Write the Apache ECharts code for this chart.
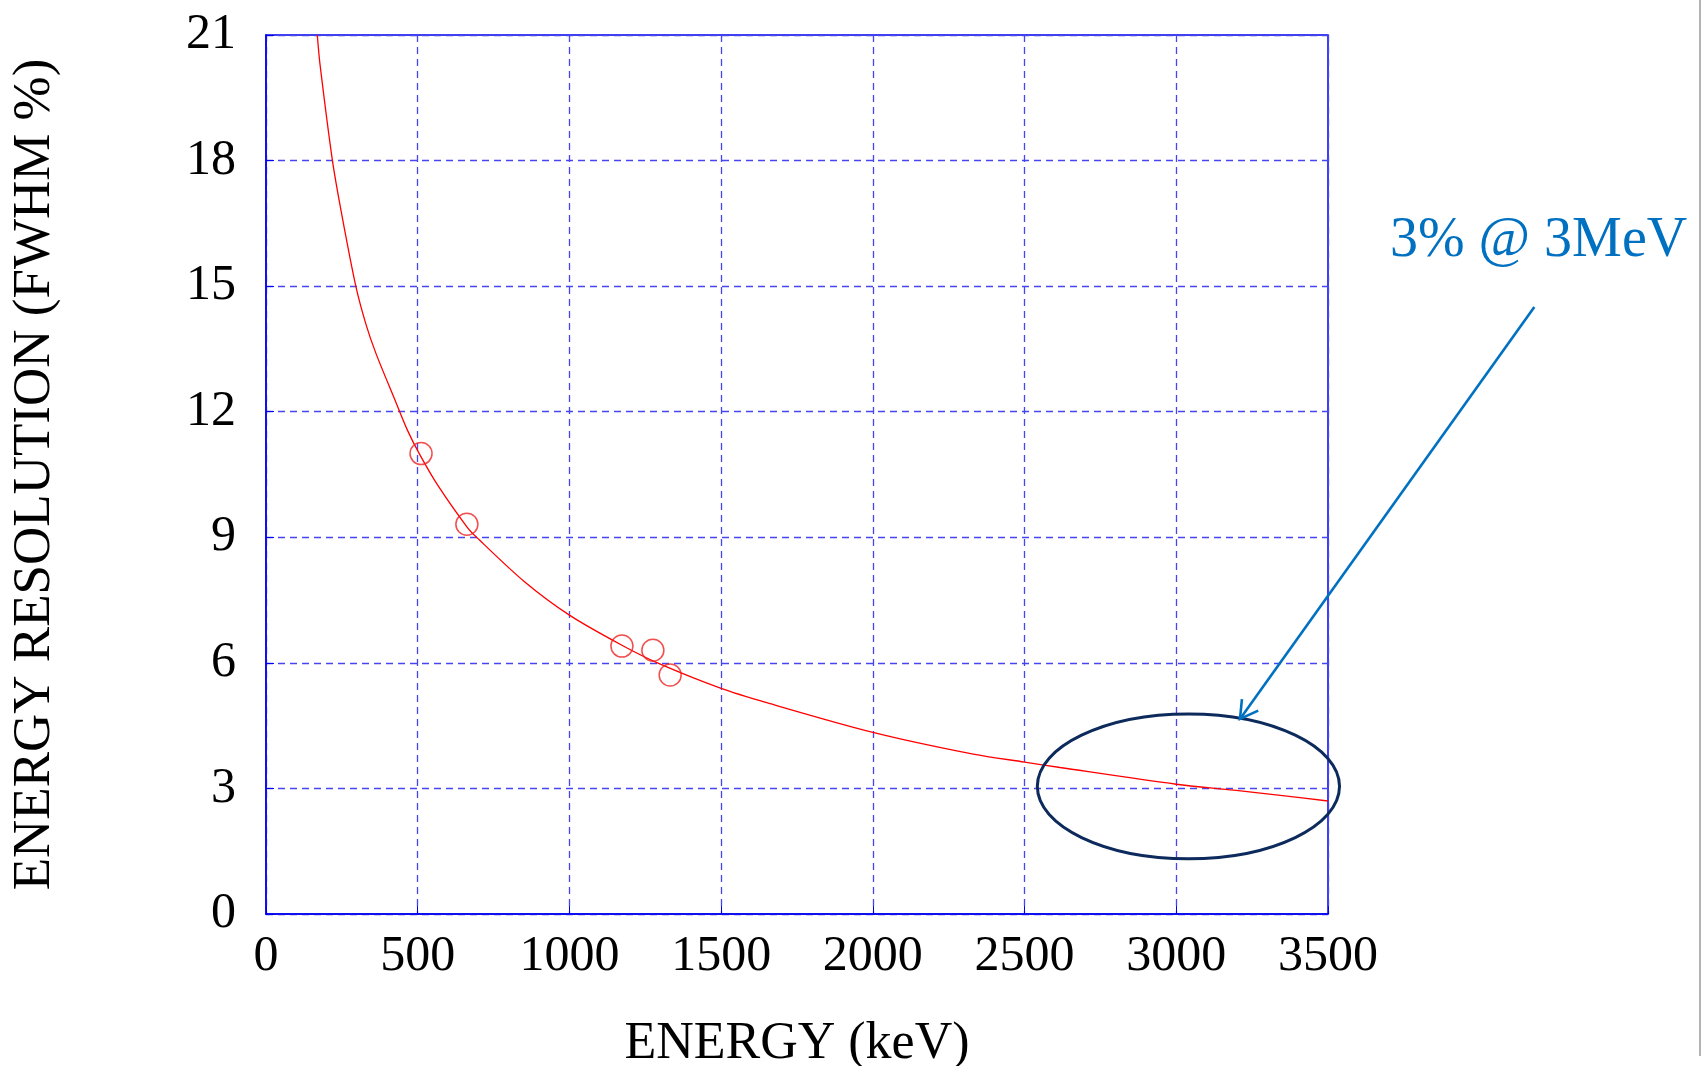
<!DOCTYPE html>
<html>
<head>
<meta charset="utf-8">
<title>Energy resolution</title>
<script src="https://cdn.jsdelivr.net/npm/echarts@6/dist/echarts.min.js"></script>
<style>
    html, body { margin: 0; padding: 0; background: #fff; }
    #chart { width: 1701px; height: 1066px; }
</style>
</head>
<body>
<div id="chart"></div>
<script>
// fitted curve (keV, FWHM %)
var curveEnergy = [169, 178, 219, 249, 296, 329, 362, 425, 466, 505, 568, 662, 694, 850, 1000, 1173, 1290, 1500, 1650, 2000, 2331, 2500, 2617, 3000, 3190, 3350, 3500];
var curveRes = [21.0, 20.3, 18.0, 16.74, 15.0, 14.1, 13.4, 12.28, 11.56, 11.0, 10.22, 9.25, 9.0, 7.95, 7.14, 6.42, 6.0, 5.39, 5.05, 4.34, 3.82, 3.63, 3.5, 3.1, 2.96, 2.83, 2.7];

// measured points (open circles)
var pointEnergy = [511, 662, 1173, 1275, 1332];
var pointRes = [11.0, 9.31, 6.40, 6.30, 5.71];

var xTicks = [0, 500, 1000, 1500, 2000, 2500, 3000, 3500];
var yTicks = [0, 3, 6, 9, 12, 15, 18, 21];

// annotation, in data units
var noteText = '3% @ 3MeV';
var noteAt = [3704, 16.08];
var ringCenter = [3040, 3.05];
var ringHalf = [498, 1.73];
var arrowFrom = [4180, 14.5];
var arrowTo = [3210, 4.66];

var serif = "'Liberation Serif', 'DejaVu Serif', serif";
var blue = '#0000ee';

function pairs(xs, ys) {
    var out = [];
    for (var i = 0; i < xs.length; i++) {
        out.push([xs[i], ys[i]]);
    }
    return out;
}

var chart = echarts.init(document.getElementById('chart'));
var option = {
    animation: false,
    backgroundColor: '#fff',
    grid: {
        left: 266,
        right: 373,
        top: 35,
        bottom: 152,
        outerBoundsMode: 'none',
        show: true,
        borderColor: blue,
        borderWidth: 1.5
    },
    xAxis: {
        type: 'value',
        min: xTicks[0],
        max: xTicks[xTicks.length - 1],
        interval: 500,
        name: 'ENERGY (keV)',
        nameLocation: 'middle',
        nameGap: 104,
        nameTextStyle: {fontFamily: serif, fontSize: 52, color: '#000'},
        axisLine: {lineStyle: {color: blue, width: 1.5}},
        axisTick: {inside: true, length: 8, lineStyle: {color: blue}},
        axisLabel: {
            fontFamily: serif, fontSize: 50, color: '#000', margin: 18,
            formatter: function (v) { return String(v); }
        },
        splitLine: {lineStyle: {color: '#4646f0', width: 1.3, type: [7, 5]}}
    },
    yAxis: {
        type: 'value',
        min: yTicks[0],
        max: yTicks[yTicks.length - 1],
        interval: 3,
        name: 'ENERGY RESOLUTION (FWHM %)',
        nameLocation: 'middle',
        nameGap: 204,
        nameTextStyle: {fontFamily: serif, fontSize: 53, color: '#000'},
        axisLine: {lineStyle: {color: blue, width: 1.5}},
        axisTick: {inside: true, length: 8, lineStyle: {color: blue}},
        axisLabel: {fontFamily: serif, fontSize: 50, color: '#000', margin: 30},
        splitLine: {lineStyle: {color: '#4646f0', width: 1.3, type: [7, 5]}}
    },
    series: [{
        name: 'fit',
        type: 'line',
        data: pairs(curveEnergy, curveRes),
        smooth: 0.3,
        showSymbol: false,
        lineStyle: {color: '#ff0000', width: 1.3},
        z: 3
    },
        {
            name: 'measured',
            type: 'scatter',
            data: pairs(pointEnergy, pointRes),
            symbol: 'circle',
            symbolSize: 22,
            itemStyle: {color: 'rgba(255,255,255,0)', borderColor: '#ee2222', borderWidth: 1.5},
            z: 4
        }
    ]
};
chart.setOption(option);

// ring, arrow and label placed through the axes
var c = chart.convertToPixel({gridIndex: 0}, ringCenter);
var edge = chart.convertToPixel({gridIndex: 0}, [ringCenter[0] + ringHalf[0], ringCenter[1] + ringHalf[1]]);
var a0 = chart.convertToPixel({gridIndex: 0}, arrowFrom);
var a1 = chart.convertToPixel({gridIndex: 0}, arrowTo);
var t = chart.convertToPixel({gridIndex: 0}, noteAt);

var dx = a0[0] - a1[0], dy = a0[1] - a1[1];
var len = Math.sqrt(dx * dx + dy * dy);
var ux = dx / len, uy = dy / len;
var head = 20, ang = 30 * Math.PI / 180;
function barb(s) {
    var ca = Math.cos(s * ang), sa = Math.sin(s * ang);
    return [a1[0] + head * (ux * ca - uy * sa), a1[1] + head * (ux * sa + uy * ca)];
}

chart.setOption({
    graphic: [{
        type: 'ellipse',
        shape: {cx: c[0], cy: c[1], rx: edge[0] - c[0], ry: c[1] - edge[1]},
        style: {fill: null, stroke: '#0d2a5c', lineWidth: 3},
        z: 10
    },
        {
            type: 'line',
            shape: {x1: a0[0], y1: a0[1], x2: a1[0], y2: a1[1]},
            style: {stroke: '#0070c0', lineWidth: 2.6},
            z: 10
        },
        {
            type: 'polyline',
            shape: {points: [barb(1), a1, barb(-1)]},
            style: {stroke: '#0070c0', lineWidth: 2.6, fill: null},
            z: 10
        },
        {
            type: 'text',
            x: t[0],
            y: t[1],
            style: {
                text: noteText,
                fill: '#0070c0',
                font: '56px ' + serif,
                textAlign: 'left',
                textVerticalAlign: 'middle'
            },
            z: 10
        },
        {
            type: 'line',
            shape: {x1: 1700, y1: 0, x2: 1700, y2: 1056},
            style: {stroke: '#9a9a9a', lineWidth: 1.5},
            z: 10
        }
    ]
});
</script>
</body>
</html>
